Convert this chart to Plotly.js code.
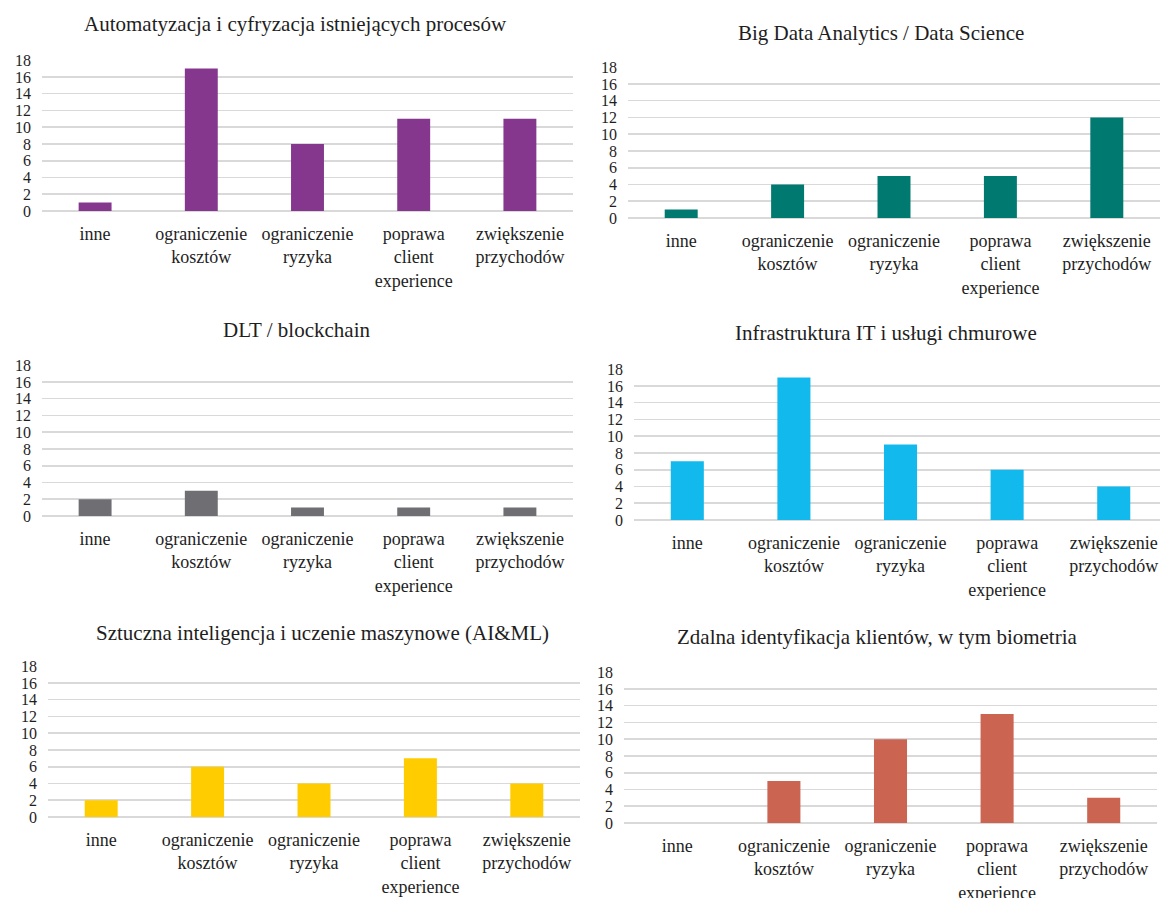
<!DOCTYPE html>
<html>
<head>
<meta charset="utf-8">
<script src="https://cdn.plot.ly/plotly-3.0.1.min.js"></script>
<style>html,body{margin:0;padding:0;background:#fff;}#chart{width:1160px;height:898px;}</style>
</head>
<body>
<div id="chart"></div>
<script>
// ---- data ----
const categories = ["inne", "ograniczenie kosztów", "ograniczenie ryzyka", "poprawa client experience", "zwiększenie przychodów"];
const tickLabels = ["inne", "ograniczenie<br>kosztów", "ograniczenie<br>ryzyka", "poprawa<br>client<br>experience", "zwiększenie<br>przychodów"];
const panelTitles = [
  "Automatyzacja i cyfryzacja istniejących procesów",
  "Big Data Analytics / Data Science",
  "DLT / blockchain",
  "Infrastruktura IT i usługi chmurowe",
  "Sztuczna inteligencja i uczenie maszynowe (AI&ML)",
  "Zdalna identyfikacja klientów, w tym biometria"
];
const automatyzacja = [1, 17, 8, 11, 11];
const bigData = [1, 4, 5, 5, 12];
const dlt = [2, 3, 1, 1, 1];
const infrastruktura = [7, 17, 9, 6, 4];
const sztucznaInteligencja = [2, 6, 4, 7, 4];
const zdalnaIdentyfikacja = [0, 5, 10, 13, 3];
const yTicks = [0, 2, 4, 6, 8, 10, 12, 14, 16, 18];

// ---- layout / style ----
const W = 1160, H = 898;
const FONT = "'Liberation Serif', 'Times New Roman', serif";
const TEXT = "#1e1e1e";
const series = [automatyzacja, bigData, dlt, infrastruktura, sztucznaInteligencja, zdalnaIdentyfikacja];
const colors = ["#84378C", "#007A70", "#6E6E73", "#12B9EC", "#FFCC00", "#CB6450"];
const boxes = [
  {x0: 42, x1: 573, yt: 60, yb: 211, tx: 295, ty: 24, xr: 4.5},
  {x0: 628, x1: 1160, yt: 67, yb: 218, tx: 881, ty: 33, xr: 4.5},
  {x0: 42, x1: 573, yt: 365, yb: 516, tx: 296, ty: 330, xr: 4.5},
  {x0: 634, x1: 1160, yt: 369, yb: 520, tx: 886, ty: 333, xr: 4.434},
  {x0: 48, x1: 580, yt: 666, yb: 817, tx: 322, ty: 633, xr: 4.5},
  {x0: 624, x1: 1157, yt: 672, yb: 823, tx: 877, ty: 637, xr: 4.5}
];

const traces = [];
const layout = {
  width: W, height: H,
  margin: {l: 0, r: 0, t: 0, b: 0},
  paper_bgcolor: "#fff", plot_bgcolor: "#fff",
  showlegend: false,
  font: {family: FONT, size: 18, color: TEXT},
  annotations: []
};

series.forEach((vals, i) => {
  const b = boxes[i];
  const n = i + 1;
  const xa = "x" + (n === 1 ? "" : n), ya = "y" + (n === 1 ? "" : n);
  traces.push({
    type: "bar", x: categories, y: vals,
    xaxis: xa, yaxis: ya,
    width: 0.31,
    marker: {color: colors[i], line: {width: 0}},
    hoverinfo: "x+y"
  });
  const xk = "xaxis" + (n === 1 ? "" : n), yk = "yaxis" + (n === 1 ? "" : n);
  layout[xk] = {
    domain: [b.x0 / W, b.x1 / W],
    anchor: ya,
    type: "category",
    range: [-0.5, b.xr],
    tickmode: "array", tickvals: categories, ticktext: tickLabels,
    ticks: "", showgrid: false, showline: false, zeroline: false,
    tickangle: 0,
    ticklabelstandoff: 10,
    tickfont: {family: FONT, size: 18, color: TEXT},
    fixedrange: true
  };
  layout[yk] = {
    domain: [1 - b.yb / H, 1 - b.yt / H],
    anchor: xa,
    range: [0, 18.02],
    tickmode: "array", tickvals: yTicks,
    ticks: "", showline: false,
    showgrid: true, gridcolor: "#D9D9D9", gridwidth: 1.6,
    zeroline: true, zerolinecolor: "#D9D9D9", zerolinewidth: 1.6,
    ticklabelstandoff: 10,
    tickfont: {family: FONT, size: 16, color: TEXT},
    fixedrange: true
  };
  layout.annotations.push({
    text: panelTitles[i], xref: "paper", yref: "paper",
    x: b.tx / W, y: 1 - b.ty / H, xanchor: "center", yanchor: "middle",
    showarrow: false, font: {family: FONT, size: 21, color: TEXT}
  });
});

Plotly.newPlot("chart", traces, layout, {displayModeBar: false, staticPlot: true});
</script>
</body>
</html>
